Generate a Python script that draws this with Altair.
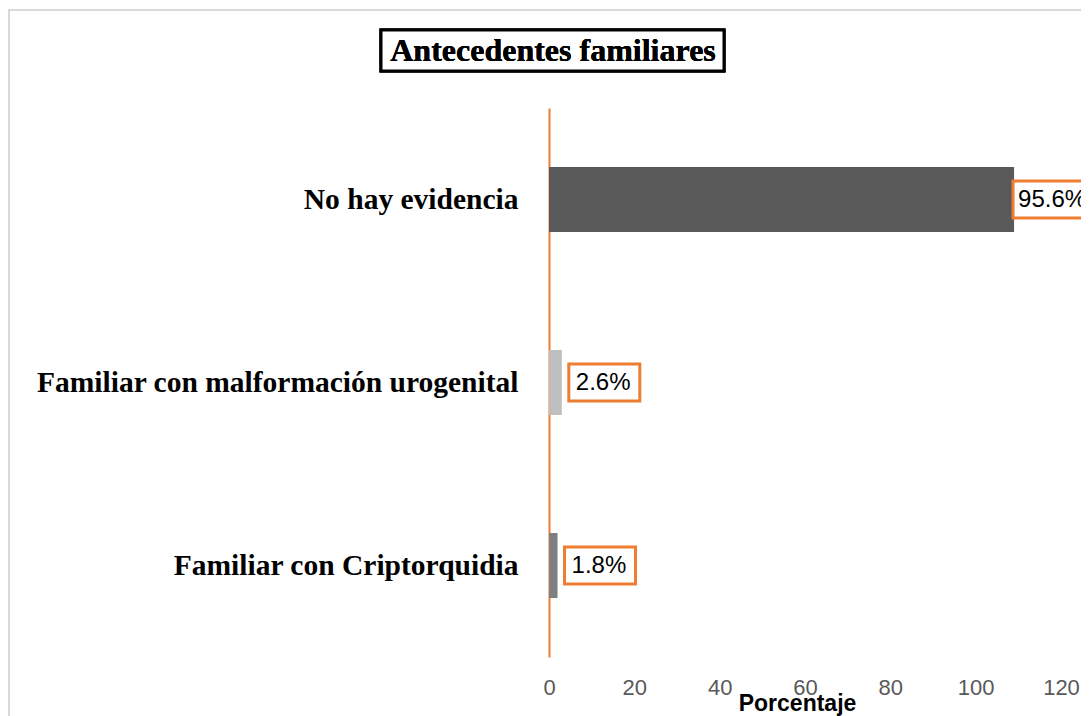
import altair as alt
import pandas as pd

categories = ["No hay evidencia", "Familiar con malformación urogenital", "Familiar con Criptorquidia"]
values = [109, 3, 2]
labels = ["95.6%", "2.6%", "1.8%"]
colors = ["#595959", "#bfbfbf", "#7f7f7f"]
x_ticks = [0, 20, 40, 60, 80, 100, 120]

df = pd.DataFrame({"cat": categories, "val": values, "lab": labels, "col": colors})

ORANGE = "#ED7D31"
W, H = 512, 549

yenc = alt.Y("cat:N", sort=categories, title=None,
             scale=alt.Scale(paddingInner=0.645, paddingOuter=0.3225),
             axis=alt.Axis(domainColor=ORANGE, domainWidth=2, ticks=False,
                           labelFont="Liberation Serif", labelFontWeight="bold",
                           labelFontSize=29.5, labelColor="#000000", labelPadding=31,
                           labelLimit=700))
xenc = alt.X("val:Q", title="Porcentaje",
             scale=alt.Scale(domain=[0, 120], nice=False),
             axis=alt.Axis(values=x_ticks, domain=False, ticks=False, grid=False,
                           labelFlush=False,
                           labelFont="Liberation Sans", labelFontSize=22, labelColor="#595959",
                           labelPadding=20, titleFont="Liberation Sans", titleFontSize=23,
                           titleFontWeight="bold", titleColor="#000000",
                           titleX=248, titleY=53, titleAlign="center",
                           titleBaseline="alphabetic", titleAnchor="start"))

ysimple = alt.Y("cat:N", sort=categories)

bars = alt.Chart(df).mark_bar(size=65).encode(
    x=xenc, y=yenc,
    color=alt.Color("col:N", scale=None),
)

# labels beside short bars
small = alt.datum.val <= 100
big = alt.datum.val > 100

boxes_small = alt.Chart(df).transform_filter(small).mark_bar(
    size=37, fill="white", stroke=ORANGE, strokeWidth=3, xOffset=7, x2Offset=78
).encode(x="val:Q", x2="val:Q", y=ysimple)

texts_small = alt.Chart(df).transform_filter(small).mark_text(
    font="Liberation Sans", fontSize=24, color="#000000", align="left", dx=14
).encode(x="val:Q", y=ysimple, text="lab:N")

# label of the long bar is pushed back against the bar end (as in the original)
boxes_big = alt.Chart(df).transform_filter(big).mark_bar(
    size=37, fill="white", stroke=ORANGE, strokeWidth=3, xOffset=-1, x2Offset=80
).encode(x="val:Q", x2="val:Q", y=ysimple)

texts_big = alt.Chart(df).transform_filter(big).mark_text(
    font="Liberation Sans", fontSize=24, color="#000000", align="left", dx=4
).encode(x="val:Q", y=ysimple, text="lab:N")

title_box = alt.Chart(df).mark_rect(fill="white", stroke="#000000", strokeWidth=3).encode(
    x=alt.value(-168), x2=alt.value(175), y=alt.value(-78), y2=alt.value(-37),
)
title_text = alt.Chart(df).mark_text(font="Liberation Serif", fontWeight="bold", fontSize=32,
                                     color="#000000", align="center", baseline="middle").encode(
    x=alt.value(4), y=alt.value(-57), text=alt.value("Antecedentes familiares"),
)

border = alt.Chart(df).mark_rect(fill=None, stroke="#d9d9d9", strokeWidth=2).encode(
    x=alt.value(-540), x2=alt.value(700), y=alt.value(-98), y2=alt.value(800),
)

chart = alt.layer(border, bars, boxes_small, texts_small, boxes_big, texts_big,
                  title_box, title_text).properties(
    width=W, height=H,
    autosize=alt.AutoSizeParams(type="none"),
    padding={"left": 541, "top": 100, "right": 20, "bottom": 60},
).configure_view(stroke=None)

chart.save("out.html", embed_options={"renderer": "svg", "actions": False})
